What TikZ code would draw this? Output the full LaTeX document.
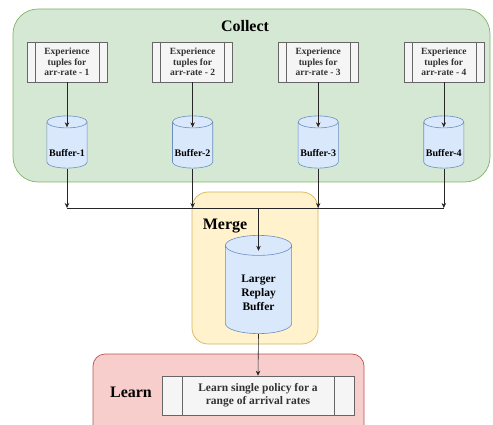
\documentclass[tikz,border=0pt]{standalone}
\usepackage{fontspec}
\setmainfont{Liberation Serif}
\usetikzlibrary{positioning, arrows.meta, calc}
\definecolor{collectfill}{HTML}{D5E8D4}
\definecolor{collectline}{HTML}{82B366}
\definecolor{mergefill}{HTML}{FFF2CC}
\definecolor{mergeline}{HTML}{D6B656}
\definecolor{learnfill}{HTML}{F8CECC}
\definecolor{learnline}{HTML}{B85450}
\definecolor{drumfill}{HTML}{DAE8FC}
\definecolor{drumline}{HTML}{6C8EBF}
\definecolor{procfill}{HTML}{F5F5F5}
\definecolor{procline}{HTML}{666666}
\definecolor{proctext}{HTML}{333333}
\tikzset{
  stage/.style={line width=0.7pt, rounded corners=#1},
  stagetitle/.style={font=\fontsize{16}{18}\selectfont\bfseries},
  process/.style={draw=procline, fill=procfill, text=proctext, align=center, inner sep=0pt, line width=0.6pt,
    path picture={\draw[procline, line width=0.6pt]
      ([xshift=#1]path picture bounding box.north west) -- ([xshift=#1]path picture bounding box.south west)
      ([xshift=-#1]path picture bounding box.north east) -- ([xshift=-#1]path picture bounding box.south east);}},
  % cylinder drawn inside the node box, #1 = half height of the end ellipse
  drum/.style={rectangle, inner sep=0pt,
    path picture={\filldraw[draw=drumline, fill=drumfill, line width=0.6pt]
      let \p1=(path picture bounding box.south west), \p2=(path picture bounding box.north east),
          \n1={(\x2-\x1)/2-0.4pt}, \n2={#1} in
      (\x1+0.4pt, \y2-\n2-0.4pt) -- (\x1+0.4pt, \y1+\n2+0.4pt)
      arc[start angle=180, end angle=360, x radius=\n1, y radius=\n2]
      -- (\x2-0.4pt, \y2-\n2-0.4pt)
      arc[start angle=0, end angle=180, x radius=\n1, y radius=\n2] -- cycle
      (\x1+0.4pt, \y2-\n2-0.4pt) arc[start angle=180, end angle=360, x radius=\n1, y radius=\n2];}},
  flow/.style={-{Stealth[length=5pt, width=4.5pt]}, draw=black!85, line width=0.6pt},
}

\begin{document}
\begin{tikzpicture}[x=1pt, y=-1pt,
  tuple/.style={process=8pt, minimum width=80pt, minimum height=40pt, font=\fontsize{9.5}{10.5}\selectfont\bfseries},
  small/.style={drum=6pt, minimum width=41pt, minimum height=53pt},
  drumtext/.style={font=\fontsize{10}{12}\selectfont\bfseries, align=center}]
  \clip (0,0) rectangle (493,425);
  % stages
  \filldraw[stage=25pt, fill=collectfill, draw=collectline] (13,9) rectangle (490,182);
  \filldraw[stage=16pt, fill=mergefill, draw=mergeline] (192,192) rectangle (318,344);
  \filldraw[stage=12pt, fill=learnfill, draw=learnline] (93,354) rectangle (364,440);
  \node[stagetitle] (collect) at (245,26) {Collect};
  \node[stagetitle] (merge) at (225,226) {Merge};
  \node[stagetitle] (learn) at (131,392) {Learn};

  % one tuple source and one buffer per arrival rate
  \node[tuple] (e1) at (67,62) {Experience\\ tuples for\\ arr-rate - 1};
  \node[tuple, right=45pt of e1] (e2) {Experience\\ tuples for\\ arr-rate - 2};
  \node[tuple, right=45pt of e2] (e3) {Experience\\ tuples for\\ arr-rate - 3};
  \node[tuple, right=45pt of e3] (e4) {Experience\\ tuples for\\ arr-rate - 4};
  \foreach \i in {1,...,4} {
    \node[small, below=33pt of e\i, label={[drumtext, yshift=-11pt]center:Buffer-\i}] (b\i) {};
    \draw[flow] (e\i.south) -- ([yshift=-12pt]b\i.north);
  }

  \node[drum=10pt, minimum width=67pt, minimum height=99pt,
    label={[drumtext, font=\fontsize{11.5}{14}\selectfont\bfseries, yshift=-8.5pt]center:Larger\\ Replay\\ Buffer}] (big) at (258.5,284.5) {};
  \node[process=20pt, minimum width=192pt, minimum height=39pt, font=\fontsize{11.5}{13}\selectfont\bfseries] (policy) at (258,395.5) {Learn single policy for a\\ range of arrival rates};

  % gather all buffers on one line
  \coordinate (bus) at (0,208);
  \foreach \i in {1,...,4} \draw[flow] (b\i.south) -- (b\i.south |- bus);
  \draw[draw=black!85, line width=0.6pt] (b1.south |- bus) -- (b4.south |- bus);
  \draw[flow] (big.north |- bus) -- ([yshift=-16pt]big.north);
  \draw[flow] (big.south) -- (policy.north);
\end{tikzpicture}
\end{document}
